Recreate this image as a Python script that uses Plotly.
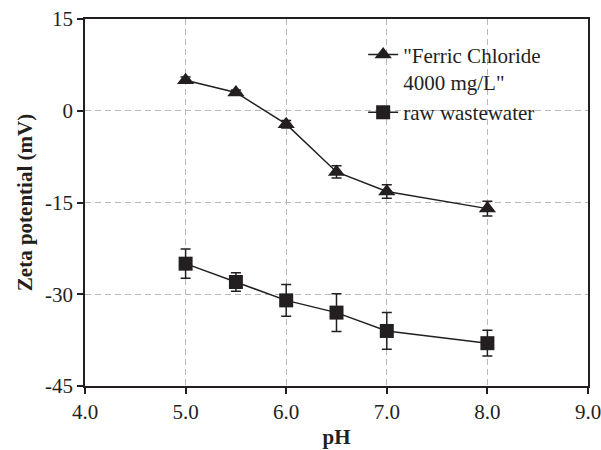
import plotly.graph_objects as go

ph_ferric = [5.0, 5.5, 6.0, 6.5, 7.0, 8.0]
zeta_ferric = [5.0, 3.0, -2.2, -10.0, -13.2, -16.0]
err_ferric = [0.5, 0.4, 0.6, 1.0, 1.1, 1.2]

ph_raw = [5.0, 5.5, 6.0, 6.5, 7.0, 8.0]
zeta_raw = [-25.0, -28.0, -31.0, -33.0, -36.0, -38.0]
err_raw = [2.4, 1.5, 2.6, 3.1, 3.0, 2.1]

x_tick_vals = [4, 5, 6, 7, 8, 9]
x_tick_labels = ["4.0", "5.0", "6.0", "7.0", "8.0", "9.0"]
y_tick_vals = [-45, -30, -15, 0, 15]
y_tick_labels = ["-45", "-30", "-15", "0", "15"]

ink = "#231f20"
font_family = "Liberation Serif"

fig = go.Figure()
fig.add_trace(go.Scatter(
    x=ph_ferric, y=zeta_ferric, mode="lines+markers",
    name='"Ferric Chloride<br>4000 mg/L"',
    line=dict(color=ink, width=1.5),
    marker=dict(symbol="triangle-up", size=15, color=ink),
    error_y=dict(type="data", array=err_ferric, color=ink, thickness=1.5, width=5),
))
fig.add_trace(go.Scatter(
    x=ph_raw, y=zeta_raw, mode="lines+markers",
    name="raw wastewater",
    line=dict(color=ink, width=1.5),
    marker=dict(symbol="square", size=14, color=ink),
    error_y=dict(type="data", array=err_raw, color=ink, thickness=1.5, width=5),
))

fig.update_layout(
    width=601, height=450,
    margin=dict(l=85, r=13, t=19, b=64),
    paper_bgcolor="white", plot_bgcolor="white",
    font=dict(family=font_family, size=21, color=ink),
    showlegend=True,
    legend=dict(x=0.553, y=0.958, xanchor="left", yanchor="top",
                bgcolor="rgba(0,0,0,0)", valign="top",
                font=dict(family=font_family, size=21, color=ink),
                tracegroupgap=0),
    xaxis=dict(range=[4, 9], tickvals=x_tick_vals, ticktext=x_tick_labels,
               automargin=False, ticklabeloverflow="allow",
               showline=True, linecolor=ink, linewidth=1.5, mirror=True,
               ticks="outside", ticklen=6, tickcolor=ink, tickwidth=1.5,
               showgrid=True, gridcolor="#b8b8b8", griddash="6px,4px", gridwidth=1,
               zeroline=False,
               title=dict(text="<b>pH</b>", font=dict(size=21), standoff=6)),
    yaxis=dict(range=[-45, 15], tickvals=y_tick_vals, ticktext=y_tick_labels,
               automargin=False, ticklabeloverflow="allow",
               showline=True, linecolor=ink, linewidth=1.5, mirror=True,
               ticks="outside", ticklen=6, tickcolor=ink, tickwidth=1.5,
               showgrid=True, gridcolor="#b8b8b8", griddash="6px,4px", gridwidth=1,
               zeroline=False,
               title=dict(text="<b>Zeta potential (mV)</b>", font=dict(size=21), standoff=7)),
)

fig.write_html("out.html", config={"displayModeBar": False},
               post_script="document.body.style.margin='0';document.body.style.overflow='hidden';")
